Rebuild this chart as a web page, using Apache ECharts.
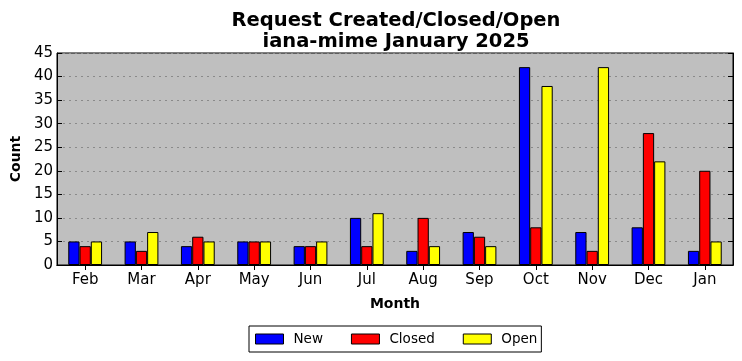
<!DOCTYPE html>
<html><head><meta charset="utf-8">
<script src="https://cdn.jsdelivr.net/npm/echarts@6/dist/echarts.min.js"></script>
<style>html,body{margin:0;padding:0;background:#fff}#c{width:742px;height:361px}</style>
</head><body><div id="c"></div>
<script>
const categories = ['Feb','Mar','Apr','May','Jun','Jul','Aug','Sep','Oct','Nov','Dec','Jan'];
const newVals    = [5,5,4,5,4,10,3,7,42,7,8,3];
const closedVals = [4,3,6,5,4,4,10,6,8,3,28,20];
const openVals   = [5,7,5,5,5,11,4,4,38,42,22,5];
const yTicks = {min:0, max:45, interval:5};
const F = 'DejaVu Sans';
const chart = echarts.init(document.getElementById('c'), null, {renderer:'canvas'});
const barStyle = c => ({color:c, borderColor:'#000', borderWidth:1});
chart.setOption({
  animation:false,
  title:{text:'Request Created/Closed/Open\niana-mime January 2025', left:391, textAlign:'center', top:5,
    textStyle:{fontFamily:F, fontWeight:'bold', fontSize:19.5, lineHeight:21.5, color:'#000'}},
  grid:{left:57, right:9, top:53, bottom:96, show:true, backgroundColor:'#bfbfbf', borderColor:'#000', borderWidth:1,
    containLabel:false, outerBoundsMode:'none'},
  legend:{top:326, left:249, itemWidth:28, itemHeight:10, itemGap:28, padding:[6,4,6,6], icon:'rect',
    borderColor:'#000', borderWidth:1, borderRadius:0,
    itemStyle:{borderColor:'#000', borderWidth:1},
    textStyle:{fontFamily:F, fontSize:13.5, color:'#000', padding:[0,0,0,5]}, data:['New','Closed','Open']},
  xAxis:[{type:'category', data:categories, name:'Month', nameLocation:'middle', nameGap:32,
    nameTextStyle:{fontFamily:F, fontWeight:'bold', fontSize:14, color:'#000'},
    axisLine:{show:true, lineStyle:{color:'#000'}}, axisTick:{show:true, inside:true, alignWithLabel:true, length:5, lineStyle:{color:'#000'}},
    axisLabel:{fontFamily:F, fontSize:15, color:'#000', margin:8}, splitLine:{show:false}},
   {type:'category', data:categories, position:'top',
    axisLine:{show:true, lineStyle:{color:'#000'}}, axisTick:{show:true, inside:true, alignWithLabel:true, length:5, lineStyle:{color:'#000'}},
    axisLabel:{show:false}, splitLine:{show:false}}],
  yAxis:[{type:'value', min:yTicks.min, max:yTicks.max, interval:yTicks.interval, name:'Count', nameLocation:'middle', nameGap:34,
    nameTextStyle:{fontFamily:F, fontWeight:'bold', fontSize:14, color:'#000'},
    axisLine:{show:true, lineStyle:{color:'#000'}}, axisTick:{show:true, inside:true, length:5, lineStyle:{color:'#000'}},
    axisLabel:{fontFamily:F, fontSize:15, color:'#000', margin:4},
    splitLine:{show:true, lineStyle:{color:'#8a8a8a', type:[2,4], width:1}}},
   {type:'value', min:yTicks.min, max:yTicks.max, interval:yTicks.interval, position:'right',
    axisLine:{show:true, lineStyle:{color:'#000'}}, axisTick:{show:true, inside:true, length:5, lineStyle:{color:'#000'}},
    axisLabel:{show:false}, splitLine:{show:false}}],
  series:[
    {name:'New', type:'bar', data:newVals, barWidth:'20%', barGap:'0%', itemStyle:barStyle('#0000ff')},
    {name:'Closed', type:'bar', data:closedVals, barWidth:'20%', barGap:'0%', itemStyle:barStyle('#ff0000')},
    {name:'Open', type:'bar', data:openVals, barWidth:'20%', barGap:'0%', itemStyle:barStyle('#ffff00')}
  ]
});
</script></body></html>
